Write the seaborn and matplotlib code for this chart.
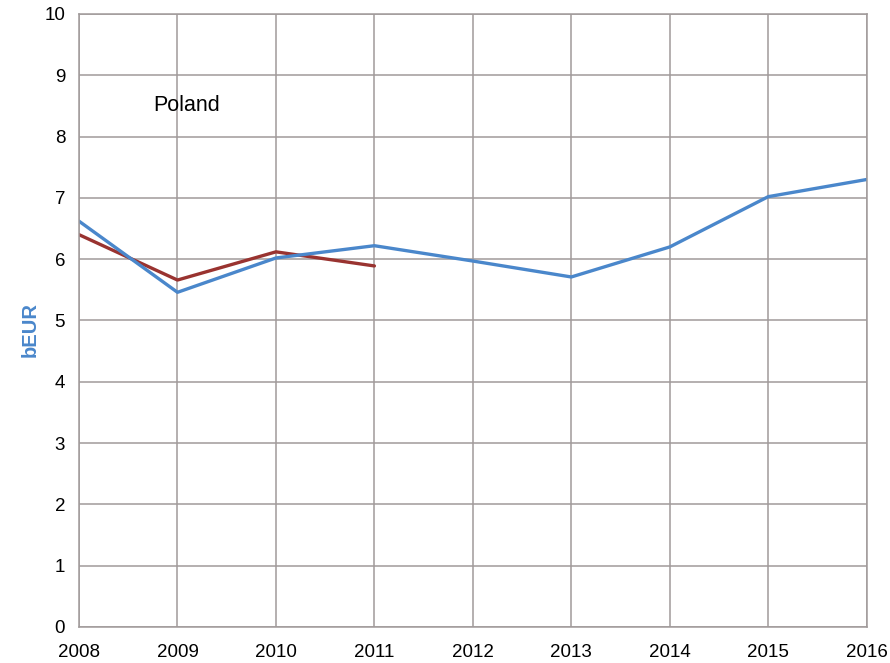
import pandas as pd
import seaborn as sns
import matplotlib.pyplot as plt

years = [2008, 2009, 2010, 2011, 2012, 2013, 2014, 2015, 2016]
blue_vals = [6.62, 5.46, 6.02, 6.22, 5.97, 5.71, 6.20, 7.02, 7.30]
red_years = [2008, 2009, 2010, 2011]
red_vals = [6.40, 5.66, 6.12, 5.89]

sns.set_theme(style="white")
plt.rcParams['font.family'] = ['Liberation Sans', 'DejaVu Sans']

df = pd.concat([
    pd.DataFrame({'year': years, 'value': blue_vals, 'series': 'blue'}),
    pd.DataFrame({'year': red_years, 'value': red_vals, 'series': 'red'}),
])

fig = plt.figure(figsize=(8.9, 6.63), dpi=100)
ax = fig.add_axes([0.0888, 0.0543, 0.885, 0.9246])

sns.lineplot(data=df, x='year', y='value', hue='series',
             palette={'blue': '#4a87cb', 'red': '#993330'},
             hue_order=['red', 'blue'], linewidth=2.4, legend=False, ax=ax)

ax.set_xlim(2008, 2016)
ax.set_ylim(0, 10)
ax.set_xticks(years)
ax.set_yticks(range(0, 11))
ax.grid(True, color='#a09a9a', linewidth=1.1)
for s in ax.spines.values():
    s.set_color('#a09a9a')
    s.set_linewidth(1.1)
ax.tick_params(axis='both', length=0, labelsize=13.5, colors='black')
ax.tick_params(axis='x', pad=12)
ax.tick_params(axis='y', pad=10)
ax.set_xlabel('')
ax.set_ylabel('bEUR', color='#4a87cb', fontsize=14.5, fontweight='bold')
ax.yaxis.set_label_coords(-0.050, 0.485)
ax.text(2009.09, 8.5, 'Poland', fontsize=15.5, ha='center', va='center', color='black')

fig.savefig('out.png', dpi=100)
